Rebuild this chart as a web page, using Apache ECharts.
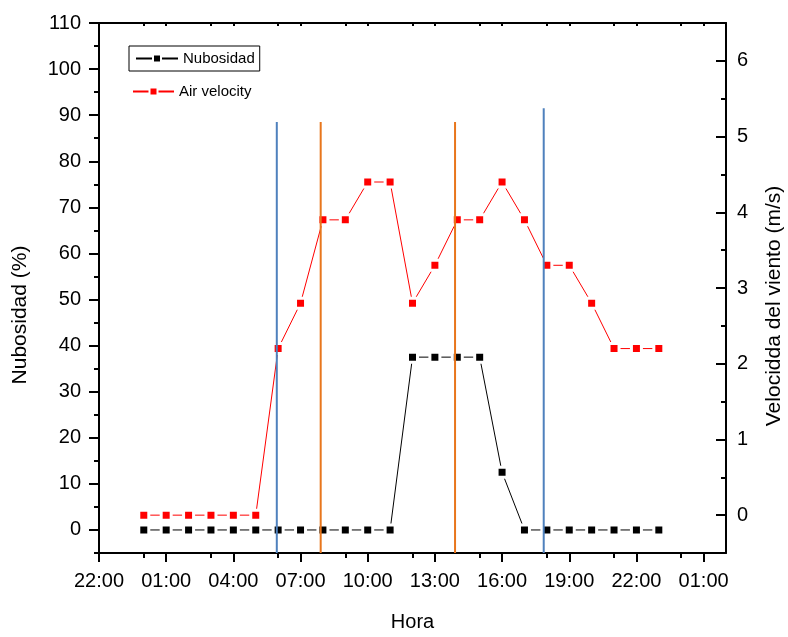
<!DOCTYPE html>
<html>
<head>
<meta charset="utf-8">
<script src="https://cdn.jsdelivr.net/npm/echarts@6/dist/echarts.min.js"></script>
<style>
html,body{margin:0;padding:0;background:#fff}
#chart{width:788px;height:637px}
</style>
</head>
<body>
<div id="chart"></div>
<script>
// hour of day for each reading
var hours = [0,1,2,3,4,5,6,7,8,9,10,11,12,13,14,15,16,17,18,19,20,21,22,23];
var nubosidad = [0,0,0,0,0,0,0,0,0,0,0,0,37.5,37.5,37.5,37.5,12.5,0,0,0,0,0,0,0];
var airVelocity = [0,0,0,0,0,0,2.2,2.8,3.9,3.9,4.4,4.4,2.8,3.3,3.9,3.9,4.4,3.9,3.3,3.3,2.8,2.2,2.2,2.2];

var xTickLabels = ['22:00','01:00','04:00','07:00','10:00','13:00','16:00','19:00','22:00','01:00'];
var leftTickLabels = ['0','10','20','30','40','50','60','70','80','90','100','110'];
var rightTickLabels = ['0','1','2','3','4','5','6'];

// vertical reference lines (hour, top in % units)
var lineHours = [5.94, 7.9, 13.9, 17.86];
var lineTops = [88.5, 88.5, 88.5, 91.5];
var lineColors = ['#4f81bd', '#e8761c', '#e8761c', '#4f81bd'];

var font = '"Liberation Sans", Arial, sans-serif';

// slot arrays so that each tick lands on a category slot
function slots(n, labels, every, first) {
    var arr = [];
    for (var i = 0; i < n; i++) {
        var k = (i - first) / every;
        arr.push(i >= first && k % 1 === 0 && labels[k] !== undefined ? labels[k] : '');
    }
    return arr;
}
var xSlots = slots(29, xTickLabels, 3, 0);
var leftSlots = slots(24, leftTickLabels, 2, 1);
var rightSlots = slots(15, rightTickLabels, 2, 1);

function pairs(vals) {
    return hours.map(function (h, i) { return [h, vals[i]]; });
}

function catAxis(position, data, tickFn, tickLen, inside, showLine, showLabel, margin) {
    return {
        type: 'category',
        position: position,
        data: data,
        boundaryGap: false,
        axisLine: { show: showLine, onZero: false, lineStyle: { color: '#000', width: 2 } },
        axisTick: { show: true, interval: tickFn, length: tickLen, inside: inside,
            lineStyle: { color: '#000', width: 2 } },
        axisLabel: { show: showLabel, interval: 0, margin: margin, color: '#000',
            fontSize: 20, fontFamily: font },
        splitLine: { show: false }
    };
}

var series = [
    {
        name: 'Nubosidad',
        type: 'line',
        xAxisIndex: 0, yAxisIndex: 0,
        data: pairs(nubosidad),
        symbol: 'rect', symbolSize: 10,
        itemStyle: { color: '#000', borderColor: '#fff', borderWidth: 3 },
        lineStyle: { color: '#000', width: 1 },
        z: 3
    },
    {
        name: 'Air velocity',
        type: 'line',
        xAxisIndex: 0, yAxisIndex: 1,
        data: pairs(airVelocity),
        symbol: 'rect', symbolSize: 10,
        itemStyle: { color: '#ff0000', borderColor: '#fff', borderWidth: 3 },
        lineStyle: { color: '#ff0000', width: 1 },
        z: 3
    }
];
lineHours.forEach(function (h, i) {
    series.push({
        type: 'line',
        xAxisIndex: 0, yAxisIndex: 0,
        data: [[h, -5], [h, lineTops[i]]],
        symbol: 'none', silent: true,
        lineStyle: { color: lineColors[i], width: 2 },
        z: 4
    });
});

var myChart = echarts.init(document.getElementById('chart'));
var option = {
    animation: false,
    backgroundColor: '#fff',
    grid: { left: 99, right: 62, top: 23, bottom: 79 },
    legend: [
        {
            data: ['Nubosidad'],
            left: 129, top: 46,
            padding: [4, 5, 4, 6],
            borderColor: '#000', borderWidth: 1,
            itemWidth: 42, itemHeight: 10,
            textStyle: { color: '#000', fontSize: 15, fontFamily: font, lineHeight: 17 }
        },
        {
            data: ['Air velocity'],
            left: 132, top: 83,
            padding: 0,
            itemWidth: 41, itemHeight: 10,
            textStyle: { color: '#000', fontSize: 15, fontFamily: font, lineHeight: 17 }
        }
    ],
    xAxis: [
        { type: 'value', min: -2, max: 26, show: false },
        (function () {
            var a = catAxis('bottom', xSlots, function (i) { return i % 3 === 0; }, 9, false, true, true, 18);
            a.name = 'Hora';
            a.nameLocation = 'middle';
            a.nameGap = 59;
            a.nameTextStyle = { color: '#000', fontSize: 20, fontFamily: font };
            return a;
        })(),
        catAxis('bottom', xSlots, function (i) { return i % 3 === 2; }, 5, false, false, false, 18),
        catAxis('top', xSlots, function (i) { return i % 3 !== 1; }, 3, true, true, false, 8)
    ],
    yAxis: [
        { type: 'value', min: -5, max: 110, show: false },
        { type: 'value', min: -0.5, max: 6.5, show: false },
        catAxis('left', leftSlots, function (i) { return i % 2 === 1; }, 10, false, true, true, 18),
        catAxis('left', leftSlots, function (i) { return i % 2 === 0; }, 5, false, false, false, 18),
        catAxis('right', rightSlots, function (i) { return i % 2 === 1; }, 10, true, true, true, 11),
        catAxis('right', rightSlots, function (i) { return i % 2 === 0; }, 5, true, false, false, 11)
    ],
    graphic: [
        {
            type: 'text', x: 20, y: 315, rotation: Math.PI / 2,
            style: { text: 'Nubosidad (%)', fill: '#000', fontSize: 21, fontFamily: font,
                align: 'center', verticalAlign: 'middle' }
        },
        {
            type: 'text', x: 774, y: 306, rotation: Math.PI / 2,
            style: { text: 'Velocidda del viento (m/s)', fill: '#000', fontSize: 21, fontFamily: font,
                align: 'center', verticalAlign: 'middle' }
        }
    ],
    series: series
};
myChart.setOption(option, true);
</script>
</body>
</html>
